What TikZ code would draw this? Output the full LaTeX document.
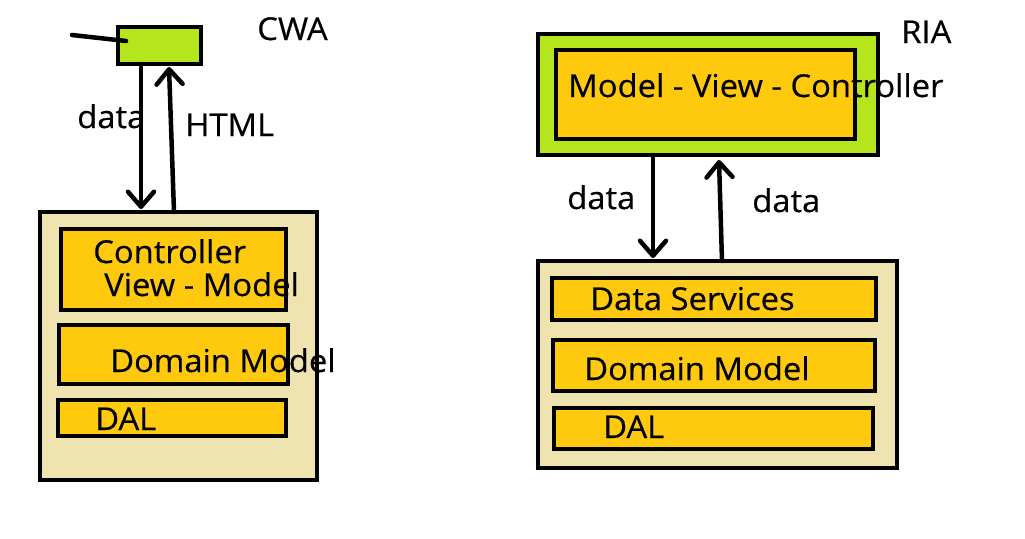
\documentclass[tikz,border=0pt]{standalone}
\usepackage{fontspec}
\setmainfont{Open Sans}[FakeStretch=1.04,FakeBold=0.4]
\usetikzlibrary{arrows.meta}
\definecolor{pgreen}{HTML}{B5E61D}
\definecolor{pyellow}{HTML}{FFC90E}
\definecolor{ptan}{HTML}{EFE4B0}
\begin{document}
\begin{tikzpicture}[x=1pt,y=-1pt,line width=4.5pt,
  box/.style={draw=black,rectangle,inner sep=0pt,outer sep=0pt,anchor=north west},
  gbox/.style={box,fill=pgreen},
  ybox/.style={box,fill=pyellow},
  tbox/.style={box,fill=ptan},
  lbl/.style={anchor=base west,inner sep=0pt,xshift=-3pt,font=\fontsize{31.5}{31.5}\selectfont},
  arr/.style={line cap=round,-{Straight Barb[length=15pt,width=26pt,round]}}]
\useasboundingbox (0,0) rectangle (1025,538);
% CWA
\node[gbox,minimum width=83pt,minimum height=37pt] (cwatop) at (118,27) {};
\coordinate (stub) at (72,35);
\coordinate (stubend) at (126,41);
\draw[line cap=round] (stub) -- (stubend);
\node[tbox,minimum width=277pt,minimum height=268pt] (cwabox) at (40,212) {};
\node[ybox,minimum width=225pt,minimum height=81pt] (cwa1) at (61,229) {};
\node[ybox,minimum width=229pt,minimum height=59pt] (cwa2) at (59,325) {};
\node[ybox,minimum width=228pt,minimum height=36pt] (cwa3) at (58,400) {};
\draw[arr] ([shift={(23,0)}]cwatop.south west) -- ([shift={(101,-3)}]cwabox.north west);
\draw[arr] ([shift={(134,0)}]cwabox.north west) -- ([shift={(51,3)}]cwatop.south west);
\node[lbl] (tcwa) at (258,40) {CWA};
\node[lbl] (tdata1) at (78,128) {data};
\node[lbl] (thtml) at (186,136) {HTML};
\node[lbl] (tctrl) at (94,263) {Controller};
\node[lbl] (tvm) at (105,296) {View - Model};
\node[lbl] (tdm1) at (111,372) {Domain Model};
\node[lbl] (tdal1) at (96,430) {DAL};
% RIA
\node[gbox,minimum width=340pt,minimum height=121pt] (riaouter) at (538,34) {};
\node[ybox,minimum width=299pt,minimum height=89pt] (riainner) at (556,50) {};
\node[tbox,minimum width=359pt,minimum height=207pt] (rialower) at (538,261) {};
\node[ybox,minimum width=324pt,minimum height=42pt] (ria1) at (552,278) {};
\node[ybox,minimum width=322pt,minimum height=51pt] (ria2) at (553,340) {};
\node[ybox,minimum width=319pt,minimum height=41pt] (ria3) at (554,408) {};
\draw[arr] ([shift={(115,0)}]riaouter.south west) -- ([shift={(115,-3)}]rialower.north west);
\draw[arr] ([shift={(184,0)}]rialower.north west) -- ([shift={(181,5)}]riaouter.south west);
\node[lbl] (tria) at (902,43) {RIA};
\node[lbl] (tmvc) at (569,97) {Model - View - Controller};
\node[lbl] (tdata2) at (568,209) {data};
\node[lbl] (tdata3) at (753,212) {data};
\node[lbl] (tds) at (591,310) {Data Services};
\node[lbl] (tdm2) at (585,380) {Domain Model};
\node[lbl] (tdal2) at (604,438) {DAL};
\end{tikzpicture}
\end{document}
